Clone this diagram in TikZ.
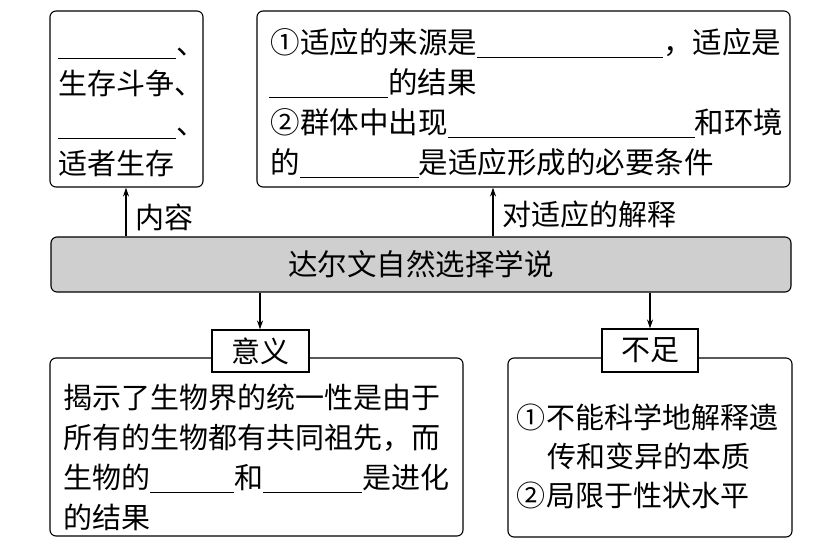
\documentclass[tikz,border=0pt]{standalone}
\usepackage{fontspec}
\setmainfont{Noto Sans CJK SC}
\usetikzlibrary{arrows.meta}
\newcommand\blk[1]{\rule[-5pt]{#1pt}{1pt}}
\newcommand\cnum[1]{\makebox[30pt][l]{#1}}
\begin{document}
\begin{tikzpicture}[x=1pt,y=-1pt,
  box/.style={draw, line width=1.1pt, rounded corners=6pt, inner sep=0pt},
  lblbox/.style={draw, line width=1.1pt, inner sep=0pt, fill=white, font=\fontsize{29}{40}\selectfont},
  txt/.style={anchor=base west, inner sep=0pt, font=\fontsize{29}{40}\selectfont},
  txtw/.style={anchor=base west, inner sep=0pt, font=\fontsize{29.5}{40}\selectfont},
  side/.style={anchor=west, inner sep=0pt, font=\fontsize{29}{40}\selectfont},
  arr/.style={-{Stealth[length=9pt,width=6pt]}, line width=1.1pt}]
\useasboundingbox (0,0) rectangle (830,546);
\fill[white] (0,0) rectangle (830,546);
% top boxes
\node[box, minimum width=153pt, minimum height=176pt] (tl) at (126.5,99) {};
\node[box, minimum width=533pt, minimum height=176pt] (tr) at (523.5,99) {};
% main box
\node[box, fill=black!19, minimum width=740pt, minimum height=55pt, font=\fontsize{29.5}{40}\selectfont] (main) at (421,264.5) {达尔文自然选择学说};
% bottom boxes
\node[box, minimum width=413pt, minimum height=178pt] (bl) at (256.5,447) {};
\node[box, minimum width=284pt, minimum height=179pt] (br) at (650,447.5) {};
\node[lblbox, minimum width=97pt, minimum height=42pt] (yy) at (260.5,351) {意义};
\node[lblbox, minimum width=96pt, minimum height=43pt] (bz) at (650,350.5) {不足};
% top-left text
\node[txt] (t1) at (58,54) {\blk{118}、};
\node[txt] (t2) at (58,94) {生存斗争、};
\node[txt] (t3) at (58,134) {\blk{118}、};
\node[txt] (t4) at (58,174) {适者生存};
% top-right text
\node[txtw] (r1) at (270,53) {\cnum{①}适应的来源是\blk{186}，适应是};
\node[txtw] (r2) at (269,93) {\blk{119}的结果};
\node[txtw] (r3) at (270,133) {\cnum{②}群体中出现\blk{247}和环境};
\node[txtw] (r4) at (270,173) {的\blk{119}是适应形成的必要条件};
% bottom-left text
\node[txt] (b1) at (63,408) {揭示了生物界的统一性是由于};
\node[txt] (b2) at (63,448) {所有的生物都有共同祖先，而};
\node[txt] (b3) at (63,488) {生物的\blk{84}和\blk{99}是进化};
\node[txt] (b4) at (63,528) {的结果};
% bottom-right text
\node[txt] (c1) at (516,428) {\cnum{①}不能科学地解释遗};
\node[txt] (c2) at (547,467) {传和变异的本质};
\node[txt] (c3) at (516,506) {\cnum{②}局限于性状水平};
% arrows
\coordinate (xa) at (126,0);
\coordinate (xb) at (493,0);
\coordinate (xc) at (260,0);
\coordinate (xd) at (650,0);
\draw[arr] (xa |- main.north) -- (xa |- tl.south);
\draw[arr] (xb |- main.north) -- (xb |- tr.south);
\draw[arr] (xc |- main.south) -- (xc |- yy.north);
\draw[arr] (xd |- main.south) -- (xd |- bz.north);
\node[side] (nr) at (135,217) {内容};
\node[side] (jd) at (502,214) {对适应的解释};
\end{tikzpicture}
\end{document}
